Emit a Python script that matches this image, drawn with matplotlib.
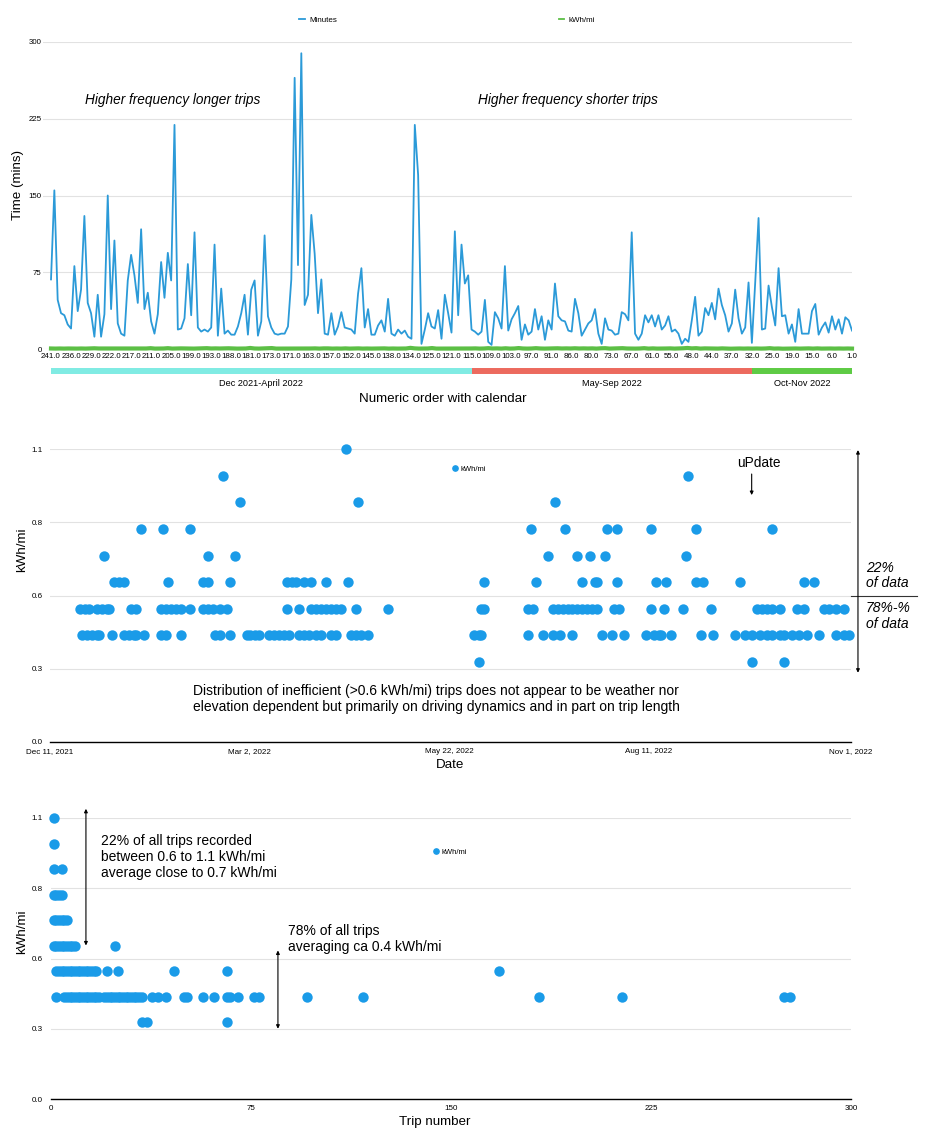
import numpy as np
import pandas as pd
import matplotlib
matplotlib.use("Agg")
import matplotlib.pyplot as plt
import matplotlib.transforms as mtransforms
from matplotlib.lines import Line2D

plt.rcParams['font.family'] = ['Liberation Sans', 'DejaVu Sans']

# --- chart 1: trip duration in numeric trip order (oldest -> newest) ---
minutes = [
    68, 155, 48, 35, 33, 24, 20, 81, 37, 58,
    130, 45, 35, 12, 53, 12, 34, 150, 39, 106,
    25, 15, 13, 67, 92, 72, 45, 117, 39, 55,
    27, 15, 34, 85, 50, 94, 67, 219, 19, 20,
    30, 83, 33, 114, 21, 17, 19, 17, 21, 102,
    13, 59, 15, 18, 14, 14, 22, 35, 53, 14,
    58, 67, 13, 27, 111, 32, 21, 15, 14, 15,
    15, 22, 68, 265, 82, 289, 43, 53, 131, 93,
    35, 68, 15, 14, 35, 14, 22, 36, 21, 20, 19,
    15, 54, 79, 21, 39, 14, 14, 23, 28, 17,
    49, 15, 13, 19, 15, 18, 12, 10, 219, 170,
    5, 19, 35, 22, 20, 38, 10, 53, 35, 16,
    115, 33, 102, 64, 72, 19, 17, 14, 17, 48,
    7, 4, 36, 30, 20, 81, 18, 29, 35, 42,
    9, 24, 14, 17, 39, 19, 32, 9, 28, 19,
    64, 32, 28, 27, 18, 17, 49, 35, 13, 19,
    25, 28, 39, 15, 5, 30, 19, 18, 14, 15, 36,
    34, 28, 114, 15, 9, 15, 33, 26, 33, 22,
    33, 19, 23, 32, 17, 19, 15, 5, 10, 7,
    28, 51, 13, 17, 40, 33, 45, 29, 59, 43,
    33, 17, 25, 58, 30, 15, 21, 65, 6, 65,
    128, 19, 20, 62, 41, 23, 79, 32, 33, 15,
    24, 7, 39, 15, 15, 15, 37, 44, 14, 21,
    26, 16, 32, 19, 29, 15, 31, 28, 18,
]
trip_tick_labels = [
    "241.0", "236.0", "229.0", "222.0", "217.0", "211.0", "205.0", "199.0",
    "193.0", "188.0", "181.0", "173.0", "171.0", "163.0", "157.0", "152.0",
    "145.0", "138.0", "134.0", "125.0", "121.0", "115.0", "109.0", "103.0",
    "97.0", "91.0", "86.0", "80.0", "73.0", "67.0", "61.0", "55.0", "48.0",
    "44.0", "37.0", "32.0", "25.0", "19.0", "15.0", "6.0", "1.0",
]
tick_step = 6

periods = ["Dec 2021-April 2022", "May-Sep 2022", "Oct-Nov 2022"]
period_from_trip = ["241.0", "115.0", "32.0"]
period_to_trip = ["115.0", "32.0", "1.0"]
period_colors = ["#80ebe3", "#ec6a5e", "#5ecb45"]

# --- chart 2: kWh/mi by date (day offsets from start date, grouped by value) ---
start_date = "2021-12-11"
end_date = "2022-11-01"
date_ticks = ["2021-12-11", "2022-03-02", "2022-05-22", "2022-08-11", "2022-11-01"]
kwh_levels = [1.1, 1.0, 0.9, 0.8, 0.7, 0.6, 0.5, 0.4, 0.3]
days_by_level = [
    [120],
    [70, 259],
    [77, 125, 205],
    [37, 46, 57, 195, 209, 226, 230, 244, 262, 293],
    [22, 64, 75, 202, 214, 219, 225, 258],
    [26, 28, 30, 48, 62, 64, 73, 96, 98, 100, 103, 106, 112, 121, 176, 197,
     216, 221, 222, 230, 246, 250, 262, 265, 280, 306, 310],
    [12, 14, 16, 19, 21, 23, 24, 33, 35, 45, 47, 49, 51, 53, 57, 62, 64, 66,
     69, 72, 96, 101, 106, 108, 110, 112, 114, 116, 118, 124, 137, 175, 176,
     194, 196, 204, 206, 208, 210, 212, 214, 216, 218, 220, 222, 229, 231,
     244, 249, 257, 268, 287, 289, 291, 293, 296, 303, 306, 314, 316, 319, 322],
    [13, 15, 17, 19, 20, 25, 30, 32, 34, 35, 38, 45, 47, 53, 67, 69, 73, 80,
     81, 83, 85, 89, 91, 93, 95, 97, 101, 103, 105, 108, 110, 114, 116, 122,
     124, 126, 129, 172, 174, 175, 194, 200, 204, 207, 212, 224, 228, 233,
     242, 245, 247, 248, 252, 264, 269, 278, 282, 285, 288, 291, 293, 296,
     298, 301, 304, 307, 312, 319, 322, 324],
    [174, 285, 298],
]

# --- chart 3: kWh/mi by trip number ---
trips_by_level = [
    [1],
    [1],
    [1, 4],
    [1, 2, 3, 4],
    [1, 2, 3, 4, 5, 6],
    [1, 2, 3, 4, 5, 6, 7, 8, 9, 24],
    [2, 3, 4, 5, 6, 7, 8, 9, 10, 11, 12, 13, 14, 15, 16, 17, 21, 25, 46, 66, 168],
    [2, 5, 6, 7, 8, 9, 10, 11, 12, 13, 14, 15, 16, 17, 18, 20, 21, 22, 23, 24,
     25, 26, 27, 28, 29, 30, 31, 32, 33, 34, 38, 40, 43, 50, 51, 57, 61, 66,
     67, 70, 76, 78, 96, 117, 183, 214, 275, 277],
    [34, 36, 66],
]

kwh_ticks = [0, 0.275, 0.55, 0.825, 1.1]
kwh_tick_labels = ["0.0", "0.3", "0.6", "0.8", "1.1"]

LINE_BLUE = "#2b9ad8"
DOT_BLUE = "#1a9be8"
GREEN = "#5cbf45"
GRID = "#e2e2e2"
W, H = 930, 1138


def px_rect(l, t, r, b):
    return [l / W, 1 - b / H, (r - l) / W, (b - t) / H]


fig = plt.figure(figsize=(W / 100, H / 100), dpi=100)

# ================= top chart =================
ax1 = fig.add_axes(px_rect(43, 42, 852, 349))
idx = np.arange(len(minutes))
ax1.plot(idx, minutes, color=LINE_BLUE, lw=1.3, zorder=3)

# kWh/mi series in chronological order drawn on the same (minutes) scale
pairs = sorted((d, v) for v, ds in zip(kwh_levels, days_by_level) for d in ds)
kwh_chrono = [v for d, v in pairs]
ax1.plot(np.linspace(0, len(minutes) - 1, len(kwh_chrono)), kwh_chrono,
         color=GREEN, lw=3, clip_on=False, zorder=4)

ax1.set_xlim(-2.4, len(minutes) - 1)
ax1.set_ylim(0, 300)
ax1.set_yticks([0, 75, 150, 225, 300])
ax1.set_xticks(idx[::tick_step])
ax1.set_xticklabels(trip_tick_labels)
ax1.tick_params(axis='x', length=0, labelsize=5.7, pad=3)
ax1.tick_params(axis='y', length=0, labelsize=5.7, pad=1)
for s in ax1.spines.values():
    s.set_visible(False)
ax1.grid(axis='y', color=GRID, lw=0.8)
ax1.set_axisbelow(True)
ax1.text(10.2, 243, "Higher frequency longer trips", style='italic',
         fontsize=9.8, va='center')
ax1.text(127.9, 243, "Higher frequency shorter trips", style='italic',
         fontsize=9.8, va='center')
fig.text(18 / W, 1 - 185 / H, "Time (mins)", rotation=90, ha='center',
         va='center', fontsize=9.6)

fig.legend(handles=[Line2D([], [], color=LINE_BLUE, lw=1.3),
                    Line2D([], [], color=GREEN, lw=1.3)],
           labels=["Minutes", "kWh/mi"], loc='center',
           bbox_to_anchor=(447 / W, 1 - 20 / H), ncol=2, frameon=False,
           fontsize=5.8, handlelength=0.7, handletextpad=0.5,
           columnspacing=27.5, borderpad=0)

# calendar bands under the trip axis
cal = fig.add_axes(px_rect(43, 362, 852, 392))
cal.set_xlim(ax1.get_xlim())
cal.set_ylim(0, 1)
cal.axis('off')
for name, a, b, c in zip(periods, period_from_trip, period_to_trip, period_colors):
    x0 = trip_tick_labels.index(a) * tick_step
    x1 = trip_tick_labels.index(b) * tick_step
    cal.plot([x0, x1], [0.7, 0.7], color=c, lw=4.3, solid_capstyle='butt')
    cal.text((x0 + x1) / 2, 0.3, name, ha='center', va='center', fontsize=6.6)
fig.text(443 / W, 1 - 399 / H, "Numeric order with calendar", ha='center',
         va='center', fontsize=9.6)

# ================= middle chart =================
ax2 = fig.add_axes(px_rect(50, 449, 851, 742))
t0 = pd.Timestamp(start_date)
for v, ds in zip(kwh_levels, days_by_level):
    dates = t0 + pd.to_timedelta(ds, unit='D')
    ax2.scatter(dates, [v] * len(ds), s=56, color=DOT_BLUE, lw=0,
                clip_on=False, zorder=3)
ax2.set_xlim(t0, pd.Timestamp(end_date))
ax2.set_ylim(0, 1.1)
tick_ts = pd.to_datetime(date_ticks)
ax2.set_xticks(tick_ts)
ax2.set_xticklabels([f"{d:%b} {d.day}, {d.year}" for d in tick_ts])
ax2.set_yticks(kwh_ticks)
ax2.set_yticklabels(kwh_tick_labels)
ax2.tick_params(length=0, labelsize=5.8)
ax2.tick_params(axis='x', pad=4)
ax2.tick_params(axis='y', pad=5)
for k in ('top', 'right', 'left'):
    ax2.spines[k].set_visible(False)
ax2.spines['bottom'].set_linewidth(1.0)
ax2.grid(axis='y', color=GRID, lw=0.8)
ax2.set_axisbelow(True)
fig.text(22 / W, 1 - 550 / H, "kWh/mi", rotation=90, ha='center',
         va='center', fontsize=9.6)
fig.text(450 / W, 1 - 765 / H, "Date", ha='center', va='center', fontsize=9.6)

ax2.legend(handles=[Line2D([], [], ls='', marker='o', color=DOT_BLUE,
                           markersize=3.8)],
           labels=["kWh/mi"], loc='center left',
           bbox_to_anchor=((452 - 50) / 801, (742 - 469) / 293),
           frameon=False, fontsize=5.5, handlelength=0.8, handletextpad=0.3,
           borderpad=0, borderaxespad=0)

bt2 = mtransforms.blended_transform_factory(ax2.transAxes, ax2.transData)
ax2.text(0.179, 0.16, "Distribution of inefficient (>0.6 kWh/mi) trips does not "
         "appear to be weather nor\nelevation dependent but primarily on "
         "driving dynamics and in part on trip length",
         transform=bt2, ha='left', va='center', fontsize=10, linespacing=1.2)

ax2.annotate('', xy=(1.0087, 1.096), xytext=(1.0087, 0.26),
             xycoords=bt2, textcoords=bt2, annotation_clip=False,
             arrowprops=dict(arrowstyle='<|-|>', color='black', lw=0.8,
                             mutation_scale=5, shrinkA=0, shrinkB=0))
ax2.plot([1.0, 1.0824], [0.55, 0.55], transform=bt2, color='#333333',
         lw=0.8, clip_on=False)
ax2.text(1.0187, 0.625, "22%\nof data", transform=bt2, style='italic',
         fontsize=10, va='center', ha='left', linespacing=1.15)
ax2.text(1.0187, 0.473, "78%-%\nof data", transform=bt2, style='italic',
         fontsize=10, va='center', ha='left', linespacing=1.15)
ax2.text(0.885, 1.047, "uPdate", transform=bt2, fontsize=9.8,
         ha='center', va='center')
ax2.annotate('', xy=(0.876, 0.927), xytext=(0.876, 1.006),
             xycoords=bt2, textcoords=bt2, annotation_clip=False,
             arrowprops=dict(arrowstyle='-|>', color='black', lw=0.8,
                             mutation_scale=5, shrinkA=0, shrinkB=0))

# ================= bottom chart =================
ax3 = fig.add_axes(px_rect(51, 818, 851, 1099))
for v, ts in zip(kwh_levels, trips_by_level):
    ax3.scatter(ts, [v] * len(ts), s=56, color=DOT_BLUE, lw=0,
                clip_on=False, zorder=3)
ax3.set_xlim(0, 300)
ax3.set_ylim(0, 1.1)
ax3.set_xticks([0, 75, 150, 225, 300])
ax3.set_yticks(kwh_ticks)
ax3.set_yticklabels(kwh_tick_labels)
ax3.tick_params(length=0, labelsize=5.8)
ax3.tick_params(axis='x', pad=4)
ax3.tick_params(axis='y', pad=6)
for k in ('top', 'right', 'left'):
    ax3.spines[k].set_visible(False)
ax3.spines['bottom'].set_linewidth(1.0)
ax3.grid(axis='y', color=GRID, lw=0.8)
ax3.set_axisbelow(True)
fig.text(22 / W, 1 - 932 / H, "kWh/mi", rotation=90, ha='center',
         va='center', fontsize=9.6)
fig.text(435 / W, 1 - 1122 / H, "Trip number", ha='center', va='center',
         fontsize=9.6)

ax3.legend(handles=[Line2D([], [], ls='', marker='o', color=DOT_BLUE,
                           markersize=3.8)],
           labels=["kWh/mi"], loc='center left',
           bbox_to_anchor=((433 - 51) / 800, (1099 - 852) / 281),
           frameon=False, fontsize=5.5, handlelength=0.8, handletextpad=0.3,
           borderpad=0, borderaxespad=0)

ax3.annotate('', xy=(13.1, 1.136), xytext=(13.1, 0.601),
             annotation_clip=False,
             arrowprops=dict(arrowstyle='<|-|>', color='black', lw=0.8,
                             mutation_scale=5, shrinkA=0, shrinkB=0))
ax3.text(18.75, 0.947, "22% of all trips recorded\nbetween 0.6 to 1.1 kWh/mi\n"
         "average close to 0.7 kWh/mi", fontsize=10, va='center',
         ha='left', linespacing=1.2)
ax3.annotate('', xy=(85.1, 0.5815), xytext=(85.1, 0.275),
             annotation_clip=False,
             arrowprops=dict(arrowstyle='<|-|>', color='black', lw=0.8,
                             mutation_scale=5, shrinkA=0, shrinkB=0))
ax3.text(88.9, 0.627, "78% of all trips\naveraging ca 0.4 kWh/mi",
         fontsize=10, va='center', ha='left', linespacing=1.2)

fig.savefig("out.png", dpi=100, facecolor='white')
